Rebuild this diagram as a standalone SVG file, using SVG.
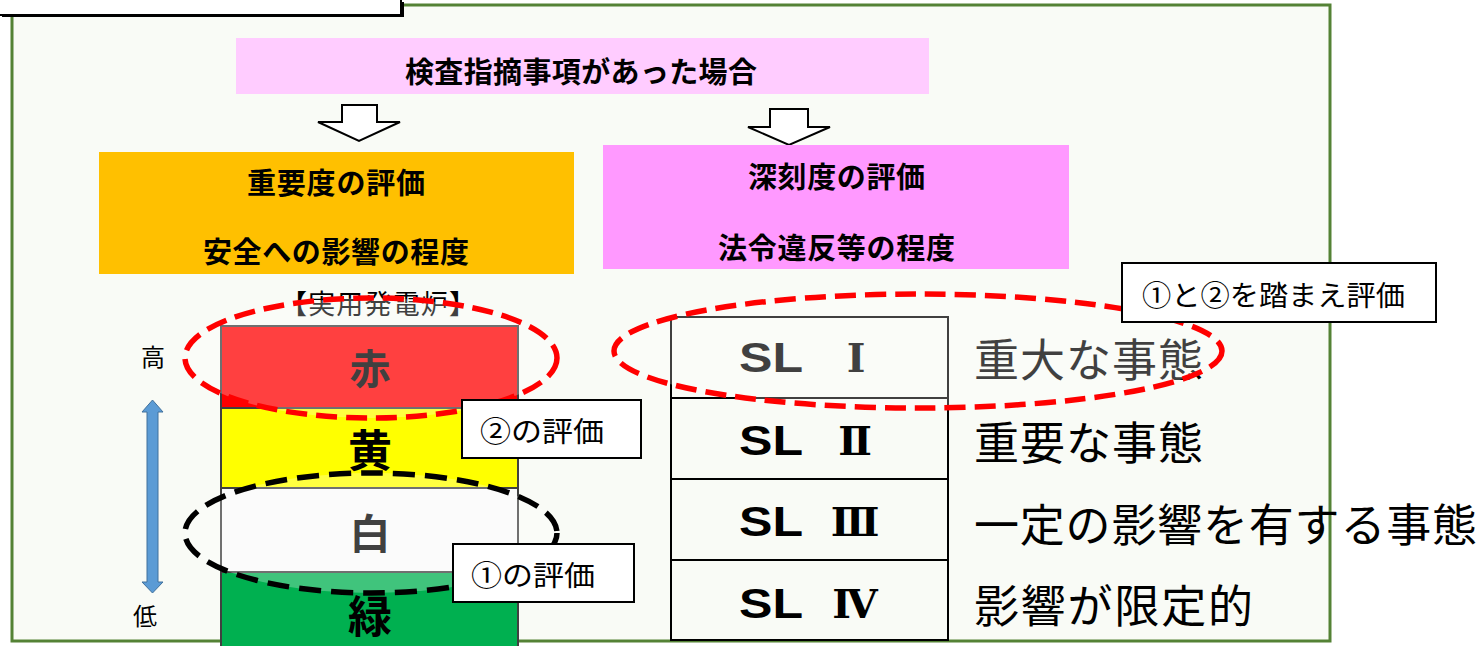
<svg xmlns="http://www.w3.org/2000/svg" width="1479" height="646" viewBox="0 0 1479 646">
<style>
.jp{font-family:"Noto Sans CJK JP","Noto Sans CJK SC",sans-serif;dominant-baseline:central}
.b{font-weight:bold}
.lab{fill:#fff;stroke:#000;stroke-width:2}
.blk{fill:#fff;stroke:#000;stroke-width:2}
.bar{stroke:#404040;stroke-width:2}
.cell{fill:none;stroke:#000;stroke-width:2}
.sl{font-family:"Liberation Sans",Arial,sans-serif;font-weight:bold;font-size:43px;dominant-baseline:central}
.num{font-family:"DejaVu Serif","Noto Sans CJK JP",serif;font-weight:bold;font-size:40px;dominant-baseline:central;text-anchor:middle}
.big{font-size:45px}
.md{font-size:29px}
.lb{font-size:28px}
</style>
<rect width="1479" height="646" fill="#ffffff"/>
<rect id="frame" x="12" y="5" width="1318" height="636" fill="#f9fbf6" stroke="#548235" stroke-width="3"/>
<g id="topbox">
<rect x="2" y="2" width="402" height="15" fill="#000"/>
<rect x="-2" y="-2" width="403" height="17" fill="#fff" stroke="#000" stroke-width="2"/>
</g>
<g id="header">
<rect x="236" y="38" width="693" height="56" fill="#ffccff"/>
<text class="jp b md" x="405" y="70" textLength="352">検査指摘事項があった場合</text>
</g>
<g id="connectors">
<polygon class="blk" points="342,105 377,105 377,122 400,122 359,141 318,122 342,122"/>
<polygon class="blk" points="770,109 808,109 808,127 830,127 789,145 748,127 770,127"/>
</g>
<g id="importance">
<rect x="99" y="152" width="475" height="122" fill="#ffc000"/>
<text class="jp b md" x="247" y="181" textLength="178">重要度の評価</text>
<text class="jp b md" x="203" y="250" textLength="266">安全への影響の程度</text>
</g>
<g id="severity">
<rect x="603" y="145" width="466" height="124" fill="#ff99ff"/>
<text class="jp b md" x="748" y="175" textLength="177">深刻度の評価</text>
<text class="jp b md" x="718" y="246" textLength="237">法令違反等の程度</text>
</g>
<g id="reactor-label">
<text class="jp" x="280" y="302" font-size="27" textLength="196">【実用発電炉】</text>
</g>
<g id="bars">
<rect class="bar" x="221" y="326" width="297" height="82" fill="#ff0000"/>
<rect class="bar" x="221" y="408" width="297" height="80" fill="#ffff00"/>
<rect class="bar" x="221" y="488" width="297" height="84" fill="#fafafa"/>
<rect class="bar" x="221" y="572" width="297" height="80" fill="#00b050"/>
<text class="jp b" x="370" y="366" font-size="41" text-anchor="middle">赤</text>
<text class="jp b" x="370" y="448" font-size="44" text-anchor="middle">黄</text>
<text class="jp b" x="370" y="531" font-size="41" text-anchor="middle">白</text>
<text class="jp b" x="370" y="614" font-size="44" text-anchor="middle">緑</text>
</g>
<g id="sl-table">
<rect class="cell" x="671" y="317" width="277" height="81"/>
<rect class="cell" x="671" y="398" width="277" height="81"/>
<rect class="cell" x="671" y="479" width="277" height="81"/>
<rect class="cell" x="671" y="560" width="277" height="80"/>
<text class="sl" x="739" y="357" textLength="64" lengthAdjust="spacingAndGlyphs">SL</text><text class="num" x="856" y="357">Ⅰ</text>
<text class="sl" x="739" y="440" textLength="64" lengthAdjust="spacingAndGlyphs">SL</text><text class="num" x="855" y="440">Ⅱ</text>
<text class="sl" x="739" y="521" textLength="64" lengthAdjust="spacingAndGlyphs">SL</text><text class="num" x="855" y="521">Ⅲ</text>
<text class="sl" x="739" y="603" textLength="64" lengthAdjust="spacingAndGlyphs">SL</text><text class="num" x="855" y="603">Ⅳ</text>
</g>
<g id="sl-desc">
<text class="jp big" x="974" y="357" textLength="229">重大な事態</text>
<text class="jp big" x="974" y="440" textLength="229">重要な事態</text>
<text class="jp big" x="974" y="522" textLength="503">一定の影響を有する事態</text>
<text class="jp big" x="974" y="603" textLength="279">影響が限定的</text>
</g>
<g id="ellipses">
<ellipse cx="371" cy="358" rx="186" ry="60" fill="#fff" fill-opacity="0.25" stroke="#ff0000" stroke-width="5.5" stroke-dasharray="21 9"/>
<ellipse cx="371" cy="533" rx="186" ry="60" fill="#fff" fill-opacity="0.25" stroke="#000" stroke-width="5.5" stroke-dasharray="22 10"/>
<ellipse cx="918" cy="351" rx="304" ry="57" fill="#fff" fill-opacity="0.25" stroke="#ff0000" stroke-width="5.5" stroke-dasharray="21 9"/>
</g>
<g id="label2">
<rect class="lab" x="462" y="400" width="179" height="58"/>
<text class="jp lb" x="480" y="430" textLength="124" lengthAdjust="spacingAndGlyphs">②の評価</text>
</g>
<g id="label1">
<rect class="lab" x="453" y="544" width="181" height="58"/>
<text class="jp lb" x="471" y="574" textLength="124" lengthAdjust="spacingAndGlyphs">①の評価</text>
</g>
<g id="label12">
<rect class="lab" x="1122" y="263" width="314" height="59"/>
<text class="jp lb" x="1142" y="294" textLength="263" lengthAdjust="spacingAndGlyphs">①と②を踏まえ評価</text>
</g>
<g id="scale">
<polygon points="152.5,400 163,412 158,412 158,582 163,582 152.5,593 142,582 147,582 147,412 142,412" fill="#5b9bd5" stroke="#41719c" stroke-width="1"/>
<text class="jp" x="153" y="355" font-size="24" text-anchor="middle">高</text>
<text class="jp" x="145" y="614" font-size="24" text-anchor="middle">低</text>
</g>
</svg>
